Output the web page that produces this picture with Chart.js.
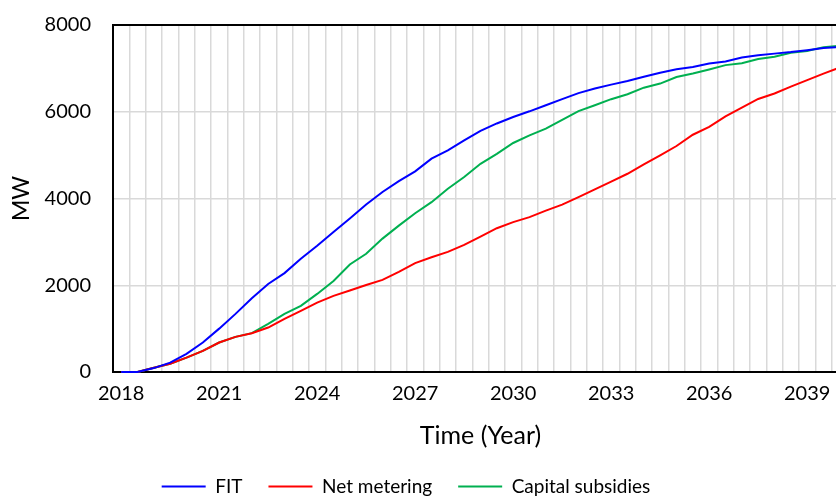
<!DOCTYPE html>
<html>
<head>
<meta charset="utf-8">
<script src="https://cdn.jsdelivr.net/npm/chart.js@4.4.1/dist/chart.umd.min.js"></script>
<style>
  html, body { margin: 0; padding: 0; background: #fff; overflow: hidden; }
  #wrap { width: 912px; height: 498px; }
</style>
</head>
<body>
<div id="wrap"><canvas id="chart" width="912" height="498"></canvas></div>
<script>
const periods = [
  2018, 2018.5, 2019, 2019.5, 2020, 2020.5, 2021, 2021.5, 2022, 2022.5,
  2023, 2023.5, 2024, 2024.5, 2025, 2025.5, 2026, 2026.5, 2027, 2027.5,
  2028, 2028.5, 2029, 2029.5, 2030, 2030.5, 2031, 2031.5, 2032, 2032.5,
  2033, 2033.5, 2034, 2034.5, 2035, 2035.5, 2036, 2036.5, 2037, 2037.5,
  2038, 2038.5, 2039, 2039.5, 2040
]

const tickYears = [2018, 2021, 2024, 2027, 2030, 2033, 2036, 2039]

const fit = [
  0, 0, 90, 215, 420, 680, 1000, 1340, 1700, 2030,
  2280, 2610, 2910, 3230, 3540, 3860, 4150, 4400, 4625, 4920,
  5110, 5340, 5560, 5730, 5880, 6010, 6150, 6290, 6430, 6535,
  6625, 6710, 6805, 6900, 6980, 7030, 7110, 7160, 7250, 7300,
  7340, 7375, 7420, 7470, 7490
]

const netMetering = [
  0, 0, 100, 190, 330, 485, 680, 810, 895, 1025,
  1225, 1410, 1600, 1755, 1880, 2005, 2125, 2310, 2510, 2645,
  2770, 2930, 3120, 3315, 3455, 3570, 3720, 3860, 4030, 4210,
  4390, 4570, 4785, 4995, 5210, 5470, 5650, 5895, 6095, 6295,
  6420, 6580, 6730, 6880, 7020
]

const capitalSubsidies = [
  0, 0, 100, 190, 330, 485, 680, 810, 895, 1110,
  1340, 1525, 1800, 2100, 2480, 2725, 3075, 3375, 3660, 3915,
  4225, 4495, 4800, 5030, 5280, 5455, 5610, 5815, 6015, 6150,
  6290, 6405, 6555, 6650, 6800, 6880, 6975, 7075, 7120, 7215,
  7270, 7360, 7400, 7490, 7520
]

const tickFont = { family: "Lato", size: 20 }
const xTitleFont = { family: "Lato", size: 25 }
const yTitleFont = { family: "Lato", size: 23 }
const legendFont = { family: "Lato", size: 19 }
const gridColor = "#d9d9d9"

function series(label, data, color) {
  return {
    label: label,
    data: data,
    borderColor: color,
    backgroundColor: color,
    borderWidth: 2,
    pointRadius: 0,
    tension: 0,
    clip: 4
  }
}

new Chart(document.getElementById("chart"), {
  type: "line",
  data: {
    labels: periods,
    datasets: [
      series("FIT", fit, "#0000ff"),
      series("Net metering", netMetering, "#ff0000"),
      series("Capital subsidies", capitalSubsidies, "#00b050")
    ]
  },
  options: {
    responsive: false,
    animation: false,
    devicePixelRatio: 1,
    // left side pulled out so the legend centres where the original one does
    layout: { padding: { top: 25, right: 64, left: -36, bottom: -8 } },
    plugins: {
      tooltip: { enabled: false },
      legend: {
        position: "bottom",
        labels: {
          color: "#000",
          font: legendFont,
          usePointStyle: true,
          pointStyle: "line",
          pointStyleWidth: 44,
          padding: 26
        }
      }
    },
    scales: {
      x: {
        offset: true,
        grid: {
          offset: true,
          color: gridColor,
          lineWidth: 1.5,
          drawTicks: false
        },
        border: { display: true, color: "#000", width: 2 },
        ticks: {
          autoSkip: false,
          maxRotation: 0,
          color: "#000",
          font: tickFont,
          padding: 10,
          callback: function (value, index) {
            const year = periods[index]
            return tickYears.includes(year) ? String(year) : ""
          }
        },
        title: {
          display: true,
          text: "Time (Year)",
          color: "#000",
          font: xTitleFont,
          padding: { top: 0, bottom: 0 }
        },
        afterFit: (scale) => { scale.height = 79 }
      },
      y: {
        min: 0,
        max: 8000,
        grid: {
          color: (ctx) => ctx.tick && ctx.tick.value === 8000 ? "#000" : gridColor,
          lineWidth: (ctx) => ctx.tick && ctx.tick.value === 8000 ? 2 : 1.5,
          drawTicks: false
        },
        border: { display: true, color: "#000", width: 2 },
        ticks: {
          stepSize: 2000,
          color: "#000",
          font: tickFont,
          padding: 22,
          callback: (value) => String(value)
        },
        title: {
          display: true,
          text: "MW",
          color: "#000",
          font: yTitleFont,
          padding: { top: 44, bottom: 0 }
        },
        afterFit: (scale) => {
          scale.width = 149
          scale.paddingTop = 0
          scale.paddingBottom = 0
        }
      }
    }
  }
})
</script>
</body>
</html>
